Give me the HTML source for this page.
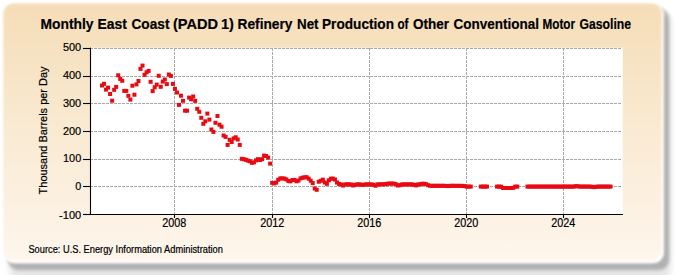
<!DOCTYPE html>
<html><head><meta charset="utf-8"><style>
html,body{margin:0;padding:0;background:#fff;width:675px;height:275px;overflow:hidden}
svg{display:block}
text{font-family:"Liberation Sans",sans-serif;fill:#000;stroke:#000;stroke-width:0.2px}
</style></head><body>
<svg width="675" height="275" viewBox="0 0 675 275">
<defs>
<linearGradient id="bg" x1="0" y1="0" x2="0" y2="1">
<stop offset="0" stop-color="#F5DDB7"/>
<stop offset="0.5" stop-color="#F9EAD3"/>
<stop offset="1" stop-color="#FEF6EC"/>
</linearGradient>
<filter id="sh" x="-10%" y="-10%" width="120%" height="120%"><feGaussianBlur stdDeviation="1.5"/></filter>
<filter id="sh2" x="-10%" y="-10%" width="120%" height="120%"><feGaussianBlur stdDeviation="3"/></filter>
<filter id="soft" x="-5%" y="-5%" width="110%" height="110%"><feGaussianBlur stdDeviation="0.9"/></filter>
</defs>
<rect x="9" y="12" width="662" height="268" rx="12" fill="#000" opacity="0.10" filter="url(#sh2)"/>
<rect x="7.5" y="8" width="662" height="262" rx="11" fill="#000" opacity="0.22" filter="url(#sh)"/>
<g filter="url(#soft)">
<rect x="3.5" y="3.5" width="660.5" height="259.7" rx="11" fill="url(#bg)"/>
<rect x="3.5" y="3.5" width="660.5" height="259.7" rx="11" fill="#fff" opacity="0.75"/>
<rect x="3.5" y="3.5" width="658" height="256.5" rx="10" fill="url(#bg)"/>
</g>
<rect x="91.0" y="47.7" width="531.7" height="166.3" fill="#fff"/>
<g stroke="#AAAAAA" stroke-width="1" stroke-dasharray="3,1" fill="none"><line x1="90" y1="48.5" x2="621" y2="48.5"/><line x1="90" y1="76.5" x2="621" y2="76.5"/><line x1="90" y1="103.5" x2="621" y2="103.5"/><line x1="90" y1="131.5" x2="621" y2="131.5"/><line x1="90" y1="159.5" x2="621" y2="159.5"/><line x1="90" y1="186.5" x2="621" y2="186.5"/><line x1="174.5" y1="48.0" x2="174.5" y2="214.0"/><line x1="272.5" y1="48.0" x2="272.5" y2="214.0"/><line x1="369.5" y1="48.0" x2="369.5" y2="214.0"/><line x1="466.5" y1="48.0" x2="466.5" y2="214.0"/><line x1="563.5" y1="48.0" x2="563.5" y2="214.0"/></g>
<g fill="#E80A12"><rect x="100.00" y="83.50" width="4.0" height="4.0"/><rect x="102.03" y="81.80" width="4.0" height="4.0"/><rect x="104.05" y="87.60" width="4.0" height="4.0"/><rect x="106.08" y="85.60" width="4.0" height="4.0"/><rect x="108.10" y="92.00" width="4.0" height="4.0"/><rect x="110.13" y="98.70" width="4.0" height="4.0"/><rect x="112.16" y="87.80" width="4.0" height="4.0"/><rect x="114.18" y="84.90" width="4.0" height="4.0"/><rect x="116.21" y="73.30" width="4.0" height="4.0"/><rect x="118.23" y="76.90" width="4.0" height="4.0"/><rect x="120.26" y="78.80" width="4.0" height="4.0"/><rect x="122.29" y="88.90" width="4.0" height="4.0"/><rect x="124.31" y="88.90" width="4.0" height="4.0"/><rect x="126.34" y="93.80" width="4.0" height="4.0"/><rect x="128.36" y="97.60" width="4.0" height="4.0"/><rect x="130.39" y="83.70" width="4.0" height="4.0"/><rect x="132.42" y="92.70" width="4.0" height="4.0"/><rect x="134.44" y="82.40" width="4.0" height="4.0"/><rect x="136.47" y="79.00" width="4.0" height="4.0"/><rect x="138.49" y="66.90" width="4.0" height="4.0"/><rect x="140.52" y="63.60" width="4.0" height="4.0"/><rect x="142.55" y="72.80" width="4.0" height="4.0"/><rect x="144.57" y="70.30" width="4.0" height="4.0"/><rect x="146.60" y="68.90" width="4.0" height="4.0"/><rect x="148.62" y="79.80" width="4.0" height="4.0"/><rect x="150.65" y="89.10" width="4.0" height="4.0"/><rect x="152.68" y="85.30" width="4.0" height="4.0"/><rect x="154.70" y="82.60" width="4.0" height="4.0"/><rect x="156.73" y="73.80" width="4.0" height="4.0"/><rect x="158.75" y="84.80" width="4.0" height="4.0"/><rect x="160.78" y="79.60" width="4.0" height="4.0"/><rect x="162.81" y="77.50" width="4.0" height="4.0"/><rect x="164.83" y="82.10" width="4.0" height="4.0"/><rect x="166.86" y="72.50" width="4.0" height="4.0"/><rect x="168.88" y="73.90" width="4.0" height="4.0"/><rect x="170.91" y="81.90" width="4.0" height="4.0"/><rect x="172.94" y="86.90" width="4.0" height="4.0"/><rect x="174.96" y="90.50" width="4.0" height="4.0"/><rect x="176.99" y="102.90" width="4.0" height="4.0"/><rect x="179.01" y="93.70" width="4.0" height="4.0"/><rect x="181.04" y="98.80" width="4.0" height="4.0"/><rect x="183.07" y="108.70" width="4.0" height="4.0"/><rect x="185.09" y="108.70" width="4.0" height="4.0"/><rect x="187.12" y="95.60" width="4.0" height="4.0"/><rect x="189.14" y="97.30" width="4.0" height="4.0"/><rect x="191.17" y="94.50" width="4.0" height="4.0"/><rect x="193.20" y="98.90" width="4.0" height="4.0"/><rect x="195.22" y="106.80" width="4.0" height="4.0"/><rect x="197.25" y="109.80" width="4.0" height="4.0"/><rect x="199.27" y="115.80" width="4.0" height="4.0"/><rect x="201.30" y="121.80" width="4.0" height="4.0"/><rect x="203.33" y="119.30" width="4.0" height="4.0"/><rect x="205.35" y="111.60" width="4.0" height="4.0"/><rect x="207.38" y="117.60" width="4.0" height="4.0"/><rect x="209.40" y="127.50" width="4.0" height="4.0"/><rect x="211.43" y="129.90" width="4.0" height="4.0"/><rect x="213.46" y="120.80" width="4.0" height="4.0"/><rect x="215.48" y="114.00" width="4.0" height="4.0"/><rect x="217.51" y="122.70" width="4.0" height="4.0"/><rect x="219.53" y="124.70" width="4.0" height="4.0"/><rect x="221.56" y="133.50" width="4.0" height="4.0"/><rect x="223.59" y="134.90" width="4.0" height="4.0"/><rect x="225.61" y="142.90" width="4.0" height="4.0"/><rect x="227.64" y="137.80" width="4.0" height="4.0"/><rect x="229.66" y="140.00" width="4.0" height="4.0"/><rect x="231.69" y="136.40" width="4.0" height="4.0"/><rect x="233.72" y="135.30" width="4.0" height="4.0"/><rect x="235.74" y="137.50" width="4.0" height="4.0"/><rect x="237.77" y="142.90" width="4.0" height="4.0"/><rect x="239.79" y="156.80" width="4.0" height="4.0"/><rect x="241.82" y="157.20" width="4.0" height="4.0"/><rect x="243.85" y="157.80" width="4.0" height="4.0"/><rect x="245.87" y="158.60" width="4.0" height="4.0"/><rect x="247.90" y="159.20" width="4.0" height="4.0"/><rect x="249.92" y="160.80" width="4.0" height="4.0"/><rect x="251.95" y="160.40" width="4.0" height="4.0"/><rect x="253.98" y="158.40" width="4.0" height="4.0"/><rect x="256.00" y="157.20" width="4.0" height="4.0"/><rect x="258.03" y="158.00" width="4.0" height="4.0"/><rect x="260.05" y="157.20" width="4.0" height="4.0"/><rect x="262.08" y="153.60" width="4.0" height="4.0"/><rect x="264.11" y="154.00" width="4.0" height="4.0"/><rect x="266.13" y="155.60" width="4.0" height="4.0"/><rect x="268.16" y="161.60" width="4.0" height="4.0"/><rect x="270.18" y="180.86" width="4.0" height="4.0"/><rect x="272.21" y="181.43" width="4.0" height="4.0"/><rect x="274.24" y="180.58" width="4.0" height="4.0"/><rect x="276.26" y="177.74" width="4.0" height="4.0"/><rect x="278.29" y="176.40" width="4.0" height="4.0"/><rect x="280.31" y="176.40" width="4.0" height="4.0"/><rect x="282.34" y="176.55" width="4.0" height="4.0"/><rect x="284.37" y="177.41" width="4.0" height="4.0"/><rect x="286.39" y="179.03" width="4.0" height="4.0"/><rect x="288.42" y="179.35" width="4.0" height="4.0"/><rect x="290.44" y="178.06" width="4.0" height="4.0"/><rect x="292.47" y="177.95" width="4.0" height="4.0"/><rect x="294.50" y="179.30" width="4.0" height="4.0"/><rect x="296.52" y="178.56" width="4.0" height="4.0"/><rect x="298.55" y="176.39" width="4.0" height="4.0"/><rect x="300.57" y="175.73" width="4.0" height="4.0"/><rect x="302.60" y="175.32" width="4.0" height="4.0"/><rect x="304.63" y="175.20" width="4.0" height="4.0"/><rect x="306.65" y="176.65" width="4.0" height="4.0"/><rect x="308.68" y="178.68" width="4.0" height="4.0"/><rect x="310.70" y="181.08" width="4.0" height="4.0"/><rect x="312.73" y="186.54" width="4.0" height="4.0"/><rect x="314.76" y="187.79" width="4.0" height="4.0"/><rect x="316.78" y="179.73" width="4.0" height="4.0"/><rect x="318.81" y="178.80" width="4.0" height="4.0"/><rect x="320.83" y="177.65" width="4.0" height="4.0"/><rect x="322.86" y="180.45" width="4.0" height="4.0"/><rect x="324.89" y="181.83" width="4.0" height="4.0"/><rect x="326.91" y="178.29" width="4.0" height="4.0"/><rect x="328.94" y="176.69" width="4.0" height="4.0"/><rect x="330.96" y="176.59" width="4.0" height="4.0"/><rect x="332.99" y="177.48" width="4.0" height="4.0"/><rect x="335.02" y="180.52" width="4.0" height="4.0"/><rect x="337.04" y="181.91" width="4.0" height="4.0"/><rect x="339.07" y="182.44" width="4.0" height="4.0"/><rect x="341.09" y="183.54" width="4.0" height="4.0"/><rect x="343.12" y="182.40" width="4.0" height="4.0"/><rect x="345.15" y="182.40" width="4.0" height="4.0"/><rect x="347.17" y="182.40" width="4.0" height="4.0"/><rect x="349.20" y="182.50" width="4.0" height="4.0"/><rect x="351.22" y="183.47" width="4.0" height="4.0"/><rect x="353.25" y="182.76" width="4.0" height="4.0"/><rect x="355.28" y="182.40" width="4.0" height="4.0"/><rect x="357.30" y="182.40" width="4.0" height="4.0"/><rect x="359.33" y="182.66" width="4.0" height="4.0"/><rect x="361.35" y="182.92" width="4.0" height="4.0"/><rect x="363.38" y="182.40" width="4.0" height="4.0"/><rect x="365.41" y="182.40" width="4.0" height="4.0"/><rect x="367.43" y="182.40" width="4.0" height="4.0"/><rect x="369.46" y="182.40" width="4.0" height="4.0"/><rect x="371.48" y="182.84" width="4.0" height="4.0"/><rect x="373.51" y="183.74" width="4.0" height="4.0"/><rect x="375.54" y="182.39" width="4.0" height="4.0"/><rect x="377.56" y="182.34" width="4.0" height="4.0"/><rect x="379.59" y="182.30" width="4.0" height="4.0"/><rect x="381.61" y="182.25" width="4.0" height="4.0"/><rect x="383.64" y="182.21" width="4.0" height="4.0"/><rect x="385.67" y="181.70" width="4.0" height="4.0"/><rect x="387.69" y="181.60" width="4.0" height="4.0"/><rect x="389.72" y="181.60" width="4.0" height="4.0"/><rect x="391.74" y="181.60" width="4.0" height="4.0"/><rect x="393.77" y="182.10" width="4.0" height="4.0"/><rect x="395.80" y="183.41" width="4.0" height="4.0"/><rect x="397.82" y="183.22" width="4.0" height="4.0"/><rect x="399.85" y="182.40" width="4.0" height="4.0"/><rect x="401.87" y="182.40" width="4.0" height="4.0"/><rect x="403.90" y="182.40" width="4.0" height="4.0"/><rect x="405.93" y="182.40" width="4.0" height="4.0"/><rect x="407.95" y="182.40" width="4.0" height="4.0"/><rect x="409.98" y="182.40" width="4.0" height="4.0"/><rect x="412.00" y="182.79" width="4.0" height="4.0"/><rect x="414.03" y="183.39" width="4.0" height="4.0"/><rect x="416.06" y="182.40" width="4.0" height="4.0"/><rect x="418.08" y="182.38" width="4.0" height="4.0"/><rect x="420.11" y="181.80" width="4.0" height="4.0"/><rect x="422.13" y="181.80" width="4.0" height="4.0"/><rect x="424.16" y="182.22" width="4.0" height="4.0"/><rect x="426.19" y="183.23" width="4.0" height="4.0"/><rect x="428.21" y="183.80" width="4.0" height="4.0"/><rect x="430.24" y="183.80" width="4.0" height="4.0"/><rect x="432.26" y="183.80" width="4.0" height="4.0"/><rect x="434.29" y="183.80" width="4.0" height="4.0"/><rect x="436.32" y="183.80" width="4.0" height="4.0"/><rect x="438.34" y="183.80" width="4.0" height="4.0"/><rect x="440.37" y="183.80" width="4.0" height="4.0"/><rect x="442.39" y="183.80" width="4.0" height="4.0"/><rect x="444.42" y="184.00" width="4.0" height="4.0"/><rect x="446.45" y="184.08" width="4.0" height="4.0"/><rect x="448.47" y="183.80" width="4.0" height="4.0"/><rect x="450.50" y="183.82" width="4.0" height="4.0"/><rect x="452.52" y="183.83" width="4.0" height="4.0"/><rect x="454.55" y="183.85" width="4.0" height="4.0"/><rect x="456.58" y="183.86" width="4.0" height="4.0"/><rect x="458.60" y="183.88" width="4.0" height="4.0"/><rect x="460.63" y="183.89" width="4.0" height="4.0"/><rect x="462.65" y="184.13" width="4.0" height="4.0"/><rect x="464.68" y="184.60" width="4.0" height="4.0"/><rect x="466.71" y="184.60" width="4.0" height="4.0"/><rect x="468.73" y="184.60" width="4.0" height="4.0"/><rect x="478.86" y="184.60" width="4.0" height="4.0"/><rect x="480.89" y="184.60" width="4.0" height="4.0"/><rect x="482.91" y="184.60" width="4.0" height="4.0"/><rect x="484.94" y="184.60" width="4.0" height="4.0"/><rect x="495.07" y="184.60" width="4.0" height="4.0"/><rect x="497.10" y="184.60" width="4.0" height="4.0"/><rect x="499.12" y="184.69" width="4.0" height="4.0"/><rect x="501.15" y="186.00" width="4.0" height="4.0"/><rect x="503.17" y="186.00" width="4.0" height="4.0"/><rect x="505.20" y="186.00" width="4.0" height="4.0"/><rect x="507.23" y="186.00" width="4.0" height="4.0"/><rect x="509.25" y="186.00" width="4.0" height="4.0"/><rect x="511.28" y="185.81" width="4.0" height="4.0"/><rect x="513.30" y="184.60" width="4.0" height="4.0"/><rect x="515.33" y="184.60" width="4.0" height="4.0"/><rect x="525.46" y="184.60" width="4.0" height="4.0"/><rect x="527.49" y="184.60" width="4.0" height="4.0"/><rect x="529.51" y="184.60" width="4.0" height="4.0"/><rect x="531.54" y="184.60" width="4.0" height="4.0"/><rect x="533.56" y="184.60" width="4.0" height="4.0"/><rect x="535.59" y="184.60" width="4.0" height="4.0"/><rect x="537.62" y="184.60" width="4.0" height="4.0"/><rect x="539.64" y="184.60" width="4.0" height="4.0"/><rect x="541.67" y="184.60" width="4.0" height="4.0"/><rect x="543.69" y="184.60" width="4.0" height="4.0"/><rect x="545.72" y="184.60" width="4.0" height="4.0"/><rect x="547.75" y="184.60" width="4.0" height="4.0"/><rect x="549.77" y="184.60" width="4.0" height="4.0"/><rect x="551.80" y="184.60" width="4.0" height="4.0"/><rect x="553.82" y="184.60" width="4.0" height="4.0"/><rect x="555.85" y="184.60" width="4.0" height="4.0"/><rect x="557.88" y="184.60" width="4.0" height="4.0"/><rect x="559.90" y="184.60" width="4.0" height="4.0"/><rect x="561.93" y="184.60" width="4.0" height="4.0"/><rect x="563.95" y="184.60" width="4.0" height="4.0"/><rect x="565.98" y="184.60" width="4.0" height="4.0"/><rect x="568.01" y="184.60" width="4.0" height="4.0"/><rect x="570.03" y="184.60" width="4.0" height="4.0"/><rect x="572.06" y="184.59" width="4.0" height="4.0"/><rect x="574.08" y="184.12" width="4.0" height="4.0"/><rect x="576.11" y="184.38" width="4.0" height="4.0"/><rect x="578.14" y="184.60" width="4.0" height="4.0"/><rect x="580.16" y="184.60" width="4.0" height="4.0"/><rect x="582.19" y="184.60" width="4.0" height="4.0"/><rect x="584.21" y="184.60" width="4.0" height="4.0"/><rect x="586.24" y="184.60" width="4.0" height="4.0"/><rect x="588.27" y="184.60" width="4.0" height="4.0"/><rect x="590.29" y="184.86" width="4.0" height="4.0"/><rect x="592.32" y="185.14" width="4.0" height="4.0"/><rect x="594.34" y="184.73" width="4.0" height="4.0"/><rect x="596.37" y="184.60" width="4.0" height="4.0"/><rect x="598.40" y="184.60" width="4.0" height="4.0"/><rect x="600.42" y="184.60" width="4.0" height="4.0"/><rect x="602.45" y="184.60" width="4.0" height="4.0"/><rect x="604.47" y="184.60" width="4.0" height="4.0"/><rect x="606.50" y="184.60" width="4.0" height="4.0"/><rect x="608.53" y="184.60" width="4.0" height="4.0"/></g>
<g stroke="#000" stroke-width="1.1" fill="none">
<line x1="90.5" y1="47.7" x2="90.5" y2="215"/>
<line x1="83" y1="214.5" x2="623" y2="214.5"/>
<line x1="83" y1="48.5" x2="91" y2="48.5"/><line x1="83" y1="76.5" x2="91" y2="76.5"/><line x1="83" y1="103.5" x2="91" y2="103.5"/><line x1="83" y1="131.5" x2="91" y2="131.5"/><line x1="83" y1="159.5" x2="91" y2="159.5"/><line x1="83" y1="186.5" x2="91" y2="186.5"/><line x1="83" y1="214.5" x2="91" y2="214.5"/><line x1="174.5" y1="214" x2="174.5" y2="218"/><line x1="272.5" y1="214" x2="272.5" y2="218"/><line x1="369.5" y1="214" x2="369.5" y2="218"/><line x1="466.5" y1="214" x2="466.5" y2="218"/><line x1="563.5" y1="214" x2="563.5" y2="218"/>
</g>
<g><text x="62.9" y="51.41" font-size="11.56" textLength="18.3" lengthAdjust="spacingAndGlyphs">500</text><text x="62.9" y="79.01" font-size="11.56" textLength="18.3" lengthAdjust="spacingAndGlyphs">400</text><text x="62.9" y="107.36" font-size="11.56" textLength="18.3" lengthAdjust="spacingAndGlyphs">300</text><text x="62.9" y="135.06" font-size="11.56" textLength="18.3" lengthAdjust="spacingAndGlyphs">200</text><text x="63.0" y="162.41" font-size="11.56" textLength="18.2" lengthAdjust="spacingAndGlyphs">100</text><text x="75.2" y="190.41" font-size="11.56" textLength="6.0" lengthAdjust="spacingAndGlyphs">0</text><text x="59.1" y="219.11" font-size="11.56" textLength="22.1" lengthAdjust="spacingAndGlyphs">-100</text><text x="162.15" y="227.2" font-size="11.99" textLength="24.1" lengthAdjust="spacingAndGlyphs">2008</text><text x="260.15" y="227.2" font-size="11.99" textLength="24.1" lengthAdjust="spacingAndGlyphs">2012</text><text x="357.15" y="227.2" font-size="11.99" textLength="24.1" lengthAdjust="spacingAndGlyphs">2016</text><text x="454.15" y="227.2" font-size="11.99" textLength="24.1" lengthAdjust="spacingAndGlyphs">2020</text><text x="551.15" y="227.2" font-size="11.99" textLength="24.1" lengthAdjust="spacingAndGlyphs">2024</text></g>
<g font-size="14.8" font-weight="bold"><text x="40.5" y="29" textLength="53.0" lengthAdjust="spacingAndGlyphs">Monthly</text><text x="97.5" y="29" textLength="29.5" lengthAdjust="spacingAndGlyphs">East</text><text x="131.5" y="29" textLength="38.0" lengthAdjust="spacingAndGlyphs">Coast</text><text x="173.0" y="29" textLength="45.0" lengthAdjust="spacingAndGlyphs">(PADD</text><text x="221.0" y="29" textLength="13.0" lengthAdjust="spacingAndGlyphs">1)</text><text x="237.5" y="29" textLength="55.0" lengthAdjust="spacingAndGlyphs">Refinery</text><text x="297.0" y="29" textLength="21.5" lengthAdjust="spacingAndGlyphs">Net</text><text x="322.0" y="29" textLength="72.0" lengthAdjust="spacingAndGlyphs">Production</text><text x="397.5" y="29" textLength="11.0" lengthAdjust="spacingAndGlyphs">of</text><text x="413.0" y="29" textLength="36.0" lengthAdjust="spacingAndGlyphs">Other</text><text x="453.5" y="29" textLength="85.5" lengthAdjust="spacingAndGlyphs">Conventional</text><text x="542.5" y="29" textLength="32.5" lengthAdjust="spacingAndGlyphs">Motor</text><text x="579.5" y="29" textLength="51.5" lengthAdjust="spacingAndGlyphs">Gasoline</text></g>
<text transform="translate(46.7,194.4) rotate(-90)" font-size="10.91" textLength="127.9" lengthAdjust="spacingAndGlyphs">Thousand Barrels per Day</text>
<text x="28.4" y="252.9" font-size="10" textLength="194.5" lengthAdjust="spacingAndGlyphs">Source: U.S. Energy Information Administration</text>
</svg>
</body></html>
